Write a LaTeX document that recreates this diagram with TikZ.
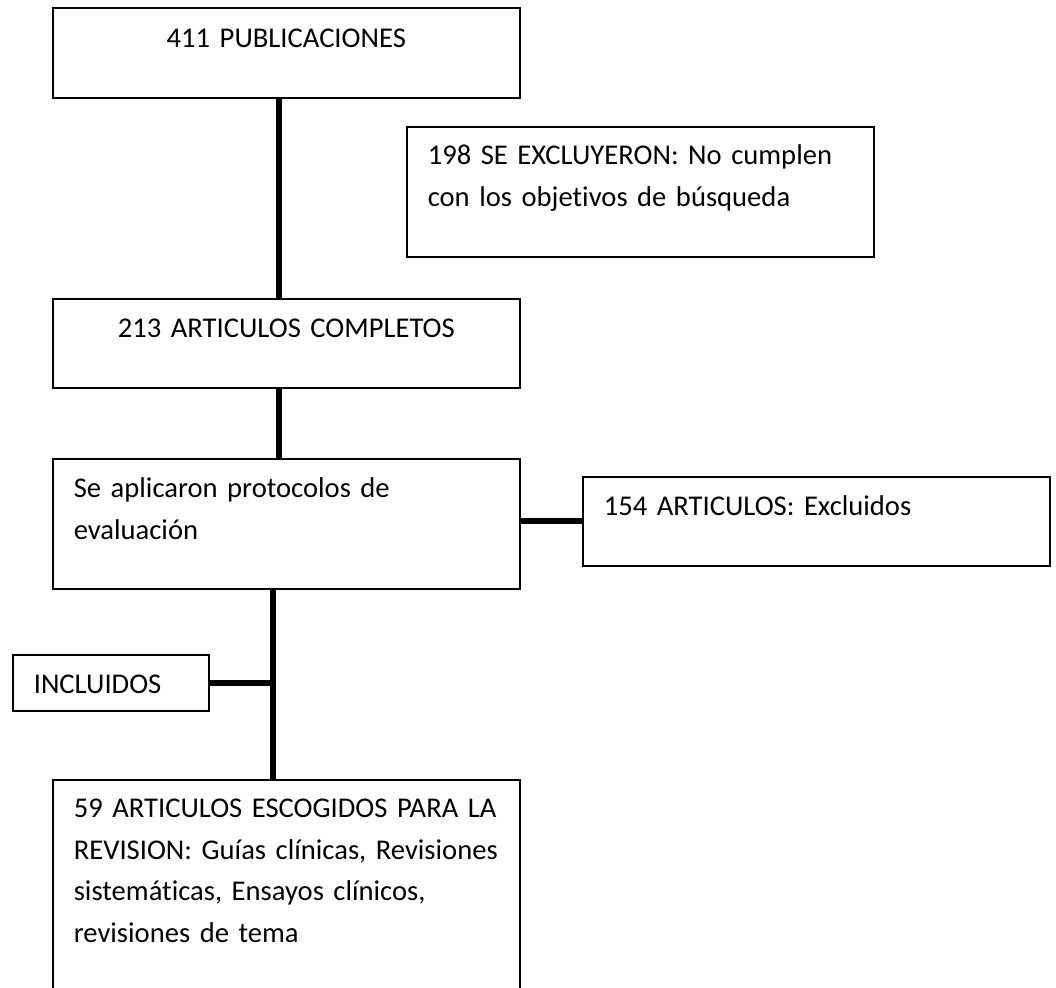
\documentclass[tikz,border=0pt]{standalone}
\usepackage{fontspec}
\setmainfont[Ligatures=NoCommon]{Carlito}
\usepackage{tikz}

\begin{document}
\begin{tikzpicture}[x=1pt, y=1pt,
      caja/.style={draw, line width=1.6pt, anchor=north west, inner xsep=21pt, inner ysep=0pt,
        text width=425pt, align=left, text height=39pt, text depth=50pt,
        font=\fontsize{28.6}{41.5}\selectfont},
      linea/.style={line width=6pt}]
    \useasboundingbox (0,0) rectangle (1056,987);
    \clip (0,0) rectangle (1056,987);
    \node[caja, align=center, text height=40pt] (pub) at (52,980) {411 PUBLICACIONES};
    \node[caja, text height=38pt, text depth=92pt] (excl) at (406,861)
        {\mbox{198 SE EXCLUYERON: No cumplen}\\\mbox{con los objetivos de búsqueda}};
    \node[caja, align=center] (art) at (52,689) {213 ARTICULOS COMPLETOS};
    \node[caja, text depth=91pt] (prot) at (52,529) {\mbox{Se aplicaron protocolos de}\\evaluación};
    \node[caja] (excl154) at (582,511) {154 ARTICULOS: Excluidos};
    \node[caja, text width=154pt, text depth=17pt] (incl) at (12,333) {INCLUIDOS};
    \node[caja, text height=38pt, text depth=192pt] (fin) at (52,208)
        {\mbox{59 ARTICULOS ESCOGIDOS PARA LA}\\\mbox{REVISION: Guías clínicas, Revisiones}\\
         \mbox{sistemáticas, Ensayos clínicos,}\\\mbox{revisiones de tema}};

    \coordinate (p) at ([xshift=-13.5pt]prot.south);
    \coordinate (f) at ([xshift=-13.5pt]fin.north);
    \draw[linea] ([xshift=-7.5pt]pub.south) -- ([xshift=-7.5pt]art.north);
    \draw[linea] ([xshift=-7.5pt]art.south) -- ([xshift=-7.5pt]prot.north);
    \draw[linea] (prot.east |- excl154.west) -- (excl154.west);
    \draw[linea] (p) -- (f);
    \draw[linea] (incl.east) -- (incl.east -| p);
\end{tikzpicture}
\end{document}
